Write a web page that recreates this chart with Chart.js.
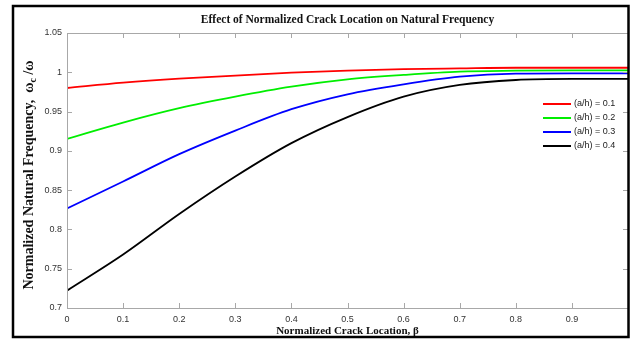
<!DOCTYPE html>
<html>
<head>
<meta charset="utf-8">
<script src="https://cdn.jsdelivr.net/npm/chart.js@4.4.0/dist/chart.umd.min.js"></script>
<style>
  html, body { margin: 0; padding: 0; background: #fff; }
</style>
</head>
<body>
<canvas id="freqChart" width="630" height="347"></canvas>
<script>
const beta = [0, 0.1, 0.2, 0.3, 0.4, 0.5, 0.6, 0.7, 0.8, 0.9, 1.0];
const ratio01 = [0.980, 0.9868, 0.9919, 0.9957, 0.9995, 1.002, 1.004, 1.005, 1.0058, 1.0058, 1.0058];
const ratio02 = [0.9153, 0.936, 0.9543, 0.969, 0.9817, 0.991, 0.9966, 1.0008, 1.002, 1.0025, 1.0025];
const ratio03 = [0.8267, 0.861, 0.8958, 0.9258, 0.953, 0.972, 0.9847, 0.9944, 0.9983, 0.9987, 0.9987];
const ratio04 = [0.7221, 0.768, 0.8196, 0.8673, 0.9098, 0.943, 0.969, 0.9839, 0.9902, 0.9915, 0.9915];
const seriesLabels = ["(a/h) = 0.1", "(a/h) = 0.2", "(a/h) = 0.3", "(a/h) = 0.4"];
const lineColors = ["#ff0000", "#00ee00", "#0000ff", "#000000"];

const toPoints = (ys) => beta.map((b, i) => ({ x: b, y: ys[i] }));
const allSeries = [ratio01, ratio02, ratio03, ratio04];

// outer figure frame
const framePlugin = {
  id: "frame",
  afterDraw(chart) {
    const ctx = chart.ctx;
    ctx.save();
    ctx.strokeStyle = "#000";
    ctx.lineWidth = 2.5;
    ctx.strokeRect(13, 6, 615.5, 331);
    ctx.restore();
  }
};

// box around the axes with inward tick marks, matlab style
const boxPlugin = {
  id: "axesBox",
  afterDatasetsDraw(chart) {
    const { ctx, chartArea: a, scales } = chart;
    ctx.save();
    ctx.strokeStyle = "#a8a8a8";
    ctx.lineWidth = 1;
    ctx.strokeRect(a.left + 0.5, a.top + 0.5, a.right - a.left, a.bottom - a.top);
    ctx.beginPath();
    scales.x.ticks.forEach(t => {
      const px = Math.round(scales.x.getPixelForValue(t.value)) + 0.5;
      ctx.moveTo(px, a.bottom); ctx.lineTo(px, a.bottom - 5);
      ctx.moveTo(px, a.top); ctx.lineTo(px, a.top + 5);
    });
    scales.y.ticks.forEach(t => {
      const py = Math.round(scales.y.getPixelForValue(t.value)) + 0.5;
      ctx.moveTo(a.left, py); ctx.lineTo(a.left + 5, py);
      ctx.moveTo(a.right, py); ctx.lineTo(a.right - 5, py);
    });
    ctx.stroke();
    ctx.restore();
  }
};

// legend inside the plot, right side
const legendPlugin = {
  id: "innerLegend",
  afterDatasetsDraw(chart) {
    const ctx = chart.ctx;
    ctx.save();
    ctx.font = "9px 'Liberation Sans', Arial, sans-serif";
    ctx.textBaseline = "middle";
    chart.data.datasets.forEach((ds, i) => {
      const y = 104 + i * 14;
      ctx.strokeStyle = ds.borderColor;
      ctx.lineWidth = 2;
      ctx.beginPath();
      ctx.moveTo(543, y); ctx.lineTo(571, y);
      ctx.stroke();
      ctx.fillStyle = "#222";
      ctx.fillText(ds.label, 574, y);
    });
    ctx.restore();
  }
};

// y axis title with the subscript in omega_c
const yTitlePlugin = {
  id: "yTitle",
  afterDraw(chart) {
    const ctx = chart.ctx;
    const parts = [
      { t: "Normalized Natural Frequency,  \u03c9", size: 14, dy: 0 },
      { t: "c", size: 10, dy: 4 },
      { t: " /\u03c9", size: 14, dy: 0 }
    ];
    ctx.save();
    ctx.fillStyle = "#111";
    let total = 0;
    parts.forEach(p => {
      ctx.font = "bold " + p.size + "px 'Liberation Serif', 'Times New Roman', serif";
      p.w = ctx.measureText(p.t).width;
      total += p.w;
    });
    ctx.translate(29, 175);
    ctx.rotate(-Math.PI / 2);
    ctx.textBaseline = "middle";
    let x = -total / 2;
    parts.forEach(p => {
      ctx.font = "bold " + p.size + "px 'Liberation Serif', 'Times New Roman', serif";
      ctx.fillText(p.t, x, p.dy);
      x += p.w;
    });
    ctx.restore();
  }
};

new Chart("freqChart", {
  type: "line",
  data: {
    datasets: allSeries.map((ys, i) => ({
      label: seriesLabels[i],
      data: toPoints(ys),
      borderColor: lineColors[i],
      borderWidth: 1.8,
      pointRadius: 0,
      fill: false,
      cubicInterpolationMode: "monotone"
    }))
  },
  options: {
    responsive: false,
    animation: false,
    layout: { padding: { left: 0, right: 2, top: 6, bottom: 0 } },
    plugins: {
      legend: { display: false },
      tooltip: { enabled: false },
      title: {
        display: true,
        fullSize: false,
        text: "Effect of Normalized Crack Location on Natural Frequency",
        color: "#111",
        font: { family: "'Liberation Serif', 'Times New Roman', serif", size: 11.5, weight: "bold" },
        padding: { top: 7, bottom: 6.2 }
      }
    },
    scales: {
      x: {
        type: "linear",
        min: 0,
        max: 1,
        afterFit(s) { s.height = 39; s.paddingLeft = 0; s.paddingRight = 0; },
        border: { display: false },
        grid: { display: false, drawTicks: false },
        ticks: {
          stepSize: 0.1,
          padding: 6,
          maxRotation: 0,
          color: "#333",
          font: { family: "'Liberation Sans', Arial, sans-serif", size: 9 },
          callback: (v) => (v > 0.95 ? "" : (v === 0 ? "0" : v.toFixed(1)))
        },
        title: {
          display: true,
          text: "Normalized Crack Location, \u03b2",
          color: "#111",
          font: { family: "'Liberation Serif', 'Times New Roman', serif", size: 11, weight: "bold" },
          padding: { top: 9, bottom: 9 }
        }
      },
      y: {
        min: 0.7,
        max: 1.05,
        afterFit(s) { s.width = 67; },
        border: { display: false },
        grid: { display: false, drawTicks: false },
        ticks: {
          stepSize: 0.05,
          padding: 5,
          color: "#333",
          font: { family: "'Liberation Sans', Arial, sans-serif", size: 9 },
          callback: (v) => String(+v.toFixed(2))
        }
      }
    }
  },
  plugins: [boxPlugin, legendPlugin, yTitlePlugin, framePlugin]
});
</script>
</body>
</html>
